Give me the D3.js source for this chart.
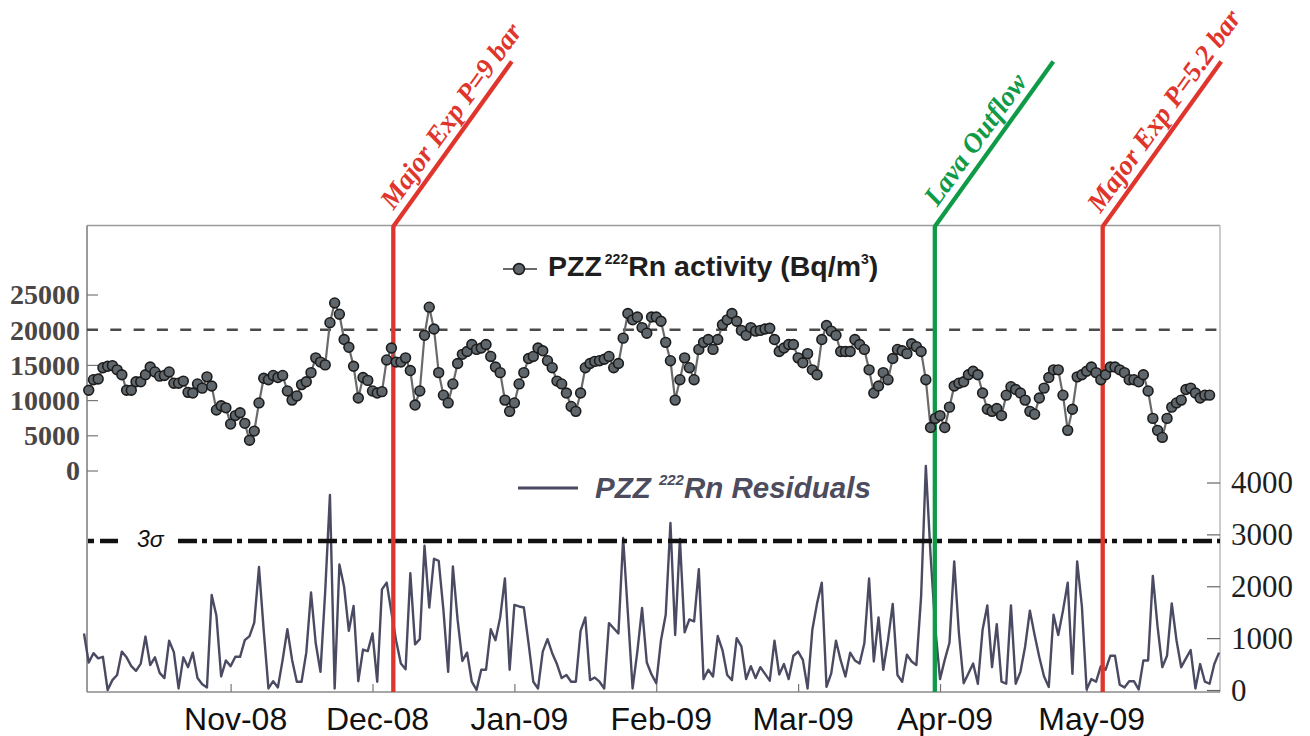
<!DOCTYPE html>
<html><head><meta charset="utf-8">
<script src="https://cdn.jsdelivr.net/npm/d3@7/dist/d3.min.js"></script>
<style>body{margin:0;background:#fff}svg{display:block}</style>
</head><body>
<svg id="chart" width="1310" height="736"></svg>
<script>
// ---------------- DATA ----------------
const activity = [
11400,12900,13000,14600,14800,14900,14300,13600,11400,11400,
12600,12600,13600,14700,14000,13400,13500,14000,12400,12400,
12700,11100,11000,12300,11700,13300,12000,8600,9200,8900,
6600,7800,8200,6700,4300,5600,9600,13100,12900,13500,
13200,13500,11300,10000,10600,12200,12600,13900,16000,15400,
15000,21000,23800,22200,18600,17500,14800,10300,13200,12800,
11300,11000,11200,15700,17400,15400,15400,16000,14200,9300,
11300,19200,23200,20100,13900,10700,9600,12300,15200,16500,
16900,17900,17200,17400,17900,16200,14700,13900,10000,8400,
9600,12300,13900,15900,16200,17400,17000,15600,14600,12700,
12300,11000,9100,8400,11000,14600,15200,15500,15600,15800,
16200,14600,15200,18800,22300,21400,21800,20300,19500,21800,
21800,21200,18200,15600,10000,12900,16000,14600,12900,17200,
18200,18600,17200,18600,20700,21400,22300,21200,19900,19200,
20300,19800,19900,20100,20200,18600,16900,17400,17900,17900,
16000,15300,16600,14300,13600,18600,20600,19800,19200,16900,
16900,16900,18600,17900,17200,14300,11000,12000,13900,12900,
15900,17200,17000,16600,18000,17600,16900,12900,6100,7400,
7800,6100,9000,12000,12400,12600,13600,14100,13600,11000,
8700,8400,8800,7800,10700,11900,11500,11000,10000,8400,
8000,10300,11700,13200,14300,14300,10700,5700,8700,13300,
13600,14100,14700,13900,12900,13600,14700,14700,14300,13900,
12900,12900,12600,13600,11300,7400,5700,4700,7400,9000,
9600,10000,11500,11700,11000,10300,10700,10700];

const residuals = [
1090,530,710,610,640,0,190,290,740,630,
460,370,510,1030,480,630,330,230,950,730,
30,630,440,720,230,110,50,1830,1430,260,
570,460,640,640,960,1040,1300,2370,1150,30,
170,50,580,1170,580,160,160,720,1880,900,
350,1900,3760,30,2420,1990,1140,1620,170,780,
750,1090,160,1940,2070,1500,950,510,400,2250,
880,980,2780,1590,2530,2490,1540,350,2380,1350,
560,720,160,0,390,390,1170,960,1400,2150,
390,1640,1610,1590,900,160,30,740,980,710,
500,230,290,160,160,1140,1400,190,240,160,
30,1290,1190,1090,2930,1480,30,740,1580,530,
300,130,960,1450,3220,1060,2910,1110,1360,1320,
2330,210,390,260,1040,770,290,190,1000,840,
210,460,230,440,310,180,950,300,500,210,
660,740,580,30,1160,1670,2070,60,320,950,
570,260,720,570,510,900,2150,550,1400,390,
960,1660,290,160,680,550,480,1800,4320,2600,
1200,210,580,910,2480,1090,130,320,510,120,
1160,1630,440,1270,160,120,1630,120,350,840,
1530,1060,630,260,60,1450,1060,1530,2070,310,
2480,1610,10,210,160,460,390,660,660,100,
50,170,170,10,570,570,2200,1220,440,660,
1670,960,440,610,770,30,500,160,120,500,
720];

const activityStartDay = 1;   // day index of first activity sample
const residualStartDay = 0;   // day index of first residual sample

const leftTicks  = [0, 5000, 10000, 15000, 20000, 25000];
const rightTicks = [0, 1000, 2000, 3000, 4000];
const monthLabels = ["Nov-08","Dec-08","Jan-09","Feb-09","Mar-09","Apr-09","May-09"];
const monthDays   = [31, 61, 91, 121, 151, 181, 212];

const eventLabels = ["Major Exp P=9 bar", "Lava Outflow", "Major Exp P=5.2 bar"];
const eventDays   = [65.4, 179.9, 215.4];

const activityThreshold = 20000;
const sigma3 = 2870;

// ---------------- LAYOUT / STYLE ----------------
const L = 87, R = 1220, T = 225.5, B = 692;
const RED = "#e0352c", GREEN = "#0f9a47";
const eventColors = [RED, GREEN, RED];
const textAlong = [12, 16, 8];

const svg = d3.select("#chart");

const x = d3.scaleLinear().domain([0.634, 240.2]).range([L, R]);
const yA = d3.scaleLinear().domain([0, 25000]).range([470.5, 294.5]);
const yR = d3.scaleLinear().domain([0, 4000]).range([690, 482.5]);

// frame
svg.append("line").attr("x1",L).attr("x2",R).attr("y1",T).attr("y2",T).attr("stroke","#9a9a9a").attr("stroke-width",1.3);
svg.append("line").attr("x1",R).attr("x2",R).attr("y1",T).attr("y2",B).attr("stroke","#b0b0b0").attr("stroke-width",1.3);
svg.append("line").attr("x1",L).attr("x2",L).attr("y1",T).attr("y2",B).attr("stroke","#7a7a7a").attr("stroke-width",1.5);
svg.append("line").attr("x1",L).attr("x2",R).attr("y1",B).attr("y2",B).attr("stroke","#8a8a8a").attr("stroke-width",1.5);

// left axis (activity)
const gL = svg.append("g").attr("transform",`translate(${L},0)`)
  .call(d3.axisRight(yA).tickValues(leftTicks).tickSize(11).tickFormat(""));
gL.select(".domain").remove();
gL.selectAll(".tick line").attr("stroke","#777").attr("stroke-width",1.2);
svg.append("g").selectAll("text").data(leftTicks).join("text")
  .attr("x",80).attr("y",d=>yA(d)).attr("dy","0.35em")
  .attr("text-anchor","end")
  .style("font-family","'Liberation Serif','Times New Roman',serif")
  .style("font-weight","bold").style("font-size","28px").attr("fill","#4a4646")
  .text(d=>d);

// right axis (residuals)
const gR = svg.append("g").attr("transform",`translate(${R},0)`)
  .call(d3.axisLeft(yR).tickValues(rightTicks).tickSize(13).tickFormat(""));
gR.select(".domain").remove();
gR.selectAll(".tick line").attr("stroke","#666").attr("stroke-width",1.2);
svg.append("g").selectAll("text").data(rightTicks).join("text")
  .attr("x",1231).attr("y",d=>yR(d)).attr("dy","0.34em")
  .style("font-family","'Liberation Serif','Times New Roman',serif")
  .style("font-size","31px").attr("fill","#1e1e1e")
  .text(d=>d);

// bottom axis
const gB = svg.append("g").attr("transform",`translate(0,${B})`)
  .call(d3.axisTop(x).tickValues(monthDays).tickSize(8).tickFormat(""));
gB.select(".domain").remove();
gB.selectAll(".tick line").attr("stroke","#777").attr("stroke-width",1.2);
svg.append("g").selectAll("text").data(monthDays).join("text")
  .attr("x",d=>x(d)+5).attr("y",730).attr("text-anchor","middle")
  .style("font-family","'Liberation Sans',Arial,sans-serif")
  .style("font-size","32px").attr("fill","#111")
  .text((d,i)=>monthLabels[i]);

// threshold dashed line
svg.append("line").attr("x1",L).attr("x2",R)
  .attr("y1",yA(activityThreshold)).attr("y2",yA(activityThreshold))
  .attr("stroke","#4a4a4a").attr("stroke-width",2.6).attr("stroke-dasharray","11,12.3");

// residual line
const resLine = d3.line().x((d,i)=>x(residualStartDay+i)).y(d=>yR(d));
svg.append("path").datum(residuals).attr("d",resLine)
  .attr("fill","none").attr("stroke","#4a4a62").attr("stroke-width",2.4).attr("stroke-linejoin","round");

// 3 sigma line
const ys = yR(sigma3);
svg.append("line").attr("x1",L+1).attr("x2",121).attr("y1",ys).attr("y2",ys)
  .attr("stroke","#111").attr("stroke-width",4.5).attr("stroke-dasharray","6,6,18,30");
svg.append("line").attr("x1",178).attr("x2",R).attr("y1",ys).attr("y2",ys)
  .attr("stroke","#111").attr("stroke-width",4.5).attr("stroke-dasharray","19,5,5,6");
svg.append("text").attr("x",137).attr("y",ys+6)
  .style("font-family","'Liberation Sans',Arial,sans-serif").style("font-style","italic")
  .style("font-size","23px").attr("fill","#111").text("3σ");

// events
const dx = 118.5, dyUp = 164;
const ang = Math.atan2(-dyUp, dx);
const dir = [Math.cos(ang), Math.sin(ang)];
const up = [dir[1], -dir[0]];
eventDays.forEach((d,i)=>{
  const fx = x(d);
  svg.append("line").attr("x1",fx).attr("x2",fx).attr("y1",T).attr("y2",B)
    .attr("stroke",eventColors[i]).attr("stroke-width",4.3);
  svg.append("line").attr("x1",fx).attr("y1",T+1).attr("x2",fx+dx).attr("y2",T-dyUp)
    .attr("stroke",eventColors[i]).attr("stroke-width",4.3);
  const s = textAlong[i], off = 8.5;
  const ox = fx + s*dir[0] + off*up[0];
  const oy = T + s*dir[1] + off*up[1];
  svg.append("text").attr("transform",`translate(${ox},${oy}) rotate(${ang*180/Math.PI})`)
    .style("font-family","'Liberation Serif','Times New Roman',serif")
    .style("font-weight","bold").style("font-style","italic").style("font-size","27.5px")
    .attr("fill",eventColors[i]).text(eventLabels[i]);
});

// activity line + markers
const actLine = d3.line().x((d,i)=>x(activityStartDay+i)).y(d=>yA(d));
svg.append("path").datum(activity).attr("d",actLine)
  .attr("fill","none").attr("stroke","#6a6a6a").attr("stroke-width",2.2);
svg.append("g").selectAll("circle").data(activity).join("circle")
  .attr("cx",(d,i)=>x(activityStartDay+i)).attr("cy",d=>yA(d)).attr("r",4.9)
  .attr("fill","#5f676c").attr("stroke","#1c1c1c").attr("stroke-width",1.6);

// legend 1
svg.append("line").attr("x1",503).attr("x2",537).attr("y1",269).attr("y2",269)
  .attr("stroke","#6a6a6a").attr("stroke-width",2.2);
svg.append("circle").attr("cx",519).attr("cy",269).attr("r",5.4)
  .attr("fill","#5f676c").attr("stroke","#1c1c1c").attr("stroke-width",1.6);
const t1 = svg.append("text").attr("x",548).attr("y",276)
  .style("font-family","'Liberation Sans',Arial,sans-serif").style("font-weight","bold")
  .style("font-size","28.5px").attr("fill","#1e1e1e");
t1.append("tspan").text("PZZ");
t1.append("tspan").attr("dx",3).attr("dy",-12).style("font-size","14px").text("222");
t1.append("tspan").attr("dy",12).text("Rn activity (Bq/m");
t1.append("tspan").attr("dy",-12).style("font-size","14px").text("3");
t1.append("tspan").attr("dy",12).text(")");

// legend 2
svg.append("line").attr("x1",518).attr("x2",578).attr("y1",488).attr("y2",488)
  .attr("stroke","#4a4a62").attr("stroke-width",3);
const t2 = svg.append("text").attr("x",595).attr("y",498)
  .style("font-family","'Liberation Sans',Arial,sans-serif").style("font-weight","bold")
  .style("font-style","italic").style("font-size","29.5px").attr("fill","#4c4c5e");
t2.append("tspan").text("PZZ ");
t2.append("tspan").attr("dy",-13).style("font-size","15px").text("222");
t2.append("tspan").attr("dy",13).text("Rn Residuals");
</script>
</body></html>
